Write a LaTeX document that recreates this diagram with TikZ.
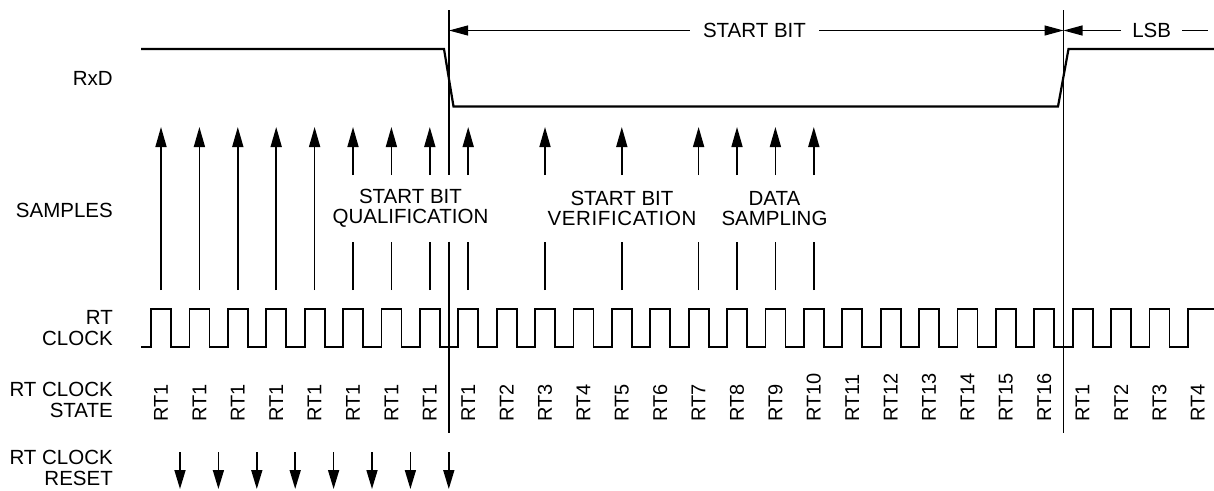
\documentclass[tikz,border=0pt]{standalone}
\usepackage{fontspec}
\setmainfont{Liberation Sans}
\usetikzlibrary{arrows.meta}
\begin{document}
\begin{tikzpicture}[x=1pt,y=-1pt,
  lbl/.style={font=\fontsize{20.5}{20.5}\selectfont, inner sep=0pt},
  side/.style={lbl, align=right, anchor=east},
  grp/.style={lbl, align=center},
  rtlab/.style={font=\fontsize{20}{20}\selectfont, inner sep=0pt, rotate=90, anchor=west},
  wave/.style={line width=2.2pt, line join=miter},
  clk/.style={line width=1.8pt},
  guide/.style={line width=1.1pt},
  samp/.style={line width=1.6pt},
  sampar/.style={samp, -{Triangle[length=20pt,width=11pt]}},
  resar/.style={samp, -{Triangle[length=19pt,width=11pt]}},
  dimar/.style={line width=1.1pt, -{Triangle[length=19pt,width=10pt]}},
]
\useasboundingbox (0,0) rectangle (1214,490);

% side labels
\node[side] (lrxd) at (113,78) {RxD};
\node[side] (lsam) at (113,210.5) {SAMPLES};
\node[side] (lclk) at (113,328) {RT\\CLOCK};
\node[side] (lsta) at (113,400) {RT CLOCK\\STATE};
\node[side] (lres) at (113,468) {RT CLOCK\\RESET};

% RxD waveform
\draw[wave] (141,49) -- (444,49) -- (453.5,106.5) -- (1058,106.5) -- (1068.5,49) -- (1214,49);

% guide lines
\coordinate (g1t) at (449,10);
\coordinate (g1a) at (449,175);
\coordinate (g1b) at (449,241.5);
\coordinate (g1e) at (449,433);
\coordinate (g2t) at (1063.5,10);
\coordinate (g2e) at (1063.5,433);
\draw[guide] (g1t) -- (g1a);
\draw[guide] (g1b) -- (g1e);
\draw[guide] (g2t) -- (g2e);

% dimension arrows
\node[lbl, inner xsep=13pt] (sbit) at (754.5,30.5) {START BIT};
\coordinate (d1) at (449,30.5);
\coordinate (d2) at (1063.5,30.5);
\draw[dimar] (sbit.west) -- (d1);
\draw[dimar] (sbit.east) -- (d2);
\node[lbl, inner xsep=11pt] (lsb) at (1151.7,30.5) {LSB};
\coordinate (d3) at (1208,30.5);
\draw[dimar] (lsb.west) -- (d2);
\draw[line width=1.1pt] (lsb.east) -- (d3);

% sample arrows
\foreach \k in {0,...,17}{
  \coordinate (sb\k) at ({161+38.4*\k},290);
  \coordinate (sl\k) at ({161+38.4*\k},241.5);
  \coordinate (su\k) at ({161+38.4*\k},175);
  \coordinate (st\k) at ({161+38.4*\k},127);
}
\foreach \k in {0,...,4}{ \draw[sampar] (sb\k) -- (st\k); }
\foreach \k in {5,6,7,8,10,12,14,15,16,17}{
  \draw[samp] (sb\k) -- (sl\k);
  \draw[sampar] (su\k) -- (st\k);
}

% group labels
\node[grp] (gq) at (410.5,208.5) {START BIT\\QUALIFICATION};
\node[grp] (gv) at (622,208.5) {START BIT\\{\addfontfeature{LetterSpace=3}VERIFICATION}};
\node[grp] (gd) at (774.5,208.5) {DATA\\SAMPLING};

% RT clock
\draw[clk] (141,346.7) \foreach \k in {0,...,26}{ -| ({151+38.4*\k},309) -| ({171+38.4*\k},346.7) } -| (1187.8,309) -- (1214,309);

% RT clock states
\foreach \lab [count=\i from 0] in {RT1,RT1,RT1,RT1,RT1,RT1,RT1,RT1,RT1,RT2,RT3,RT4,RT5,RT6,RT7,RT8,RT9,RT10,RT11,RT12,RT13,RT14,RT15,RT16,RT1,RT2,RT3,RT4}{
  \node[rtlab] (rt\i) at ({161+38.4*\i},421.7) {\lab};
}

% reset arrows
\foreach \k in {0,...,7}{
  \coordinate (rs\k) at ({180+38.4*\k},452);
  \coordinate (re\k) at ({180+38.4*\k},489);
  \draw[resar] (rs\k) -- (re\k);
}
\end{tikzpicture}
\end{document}
